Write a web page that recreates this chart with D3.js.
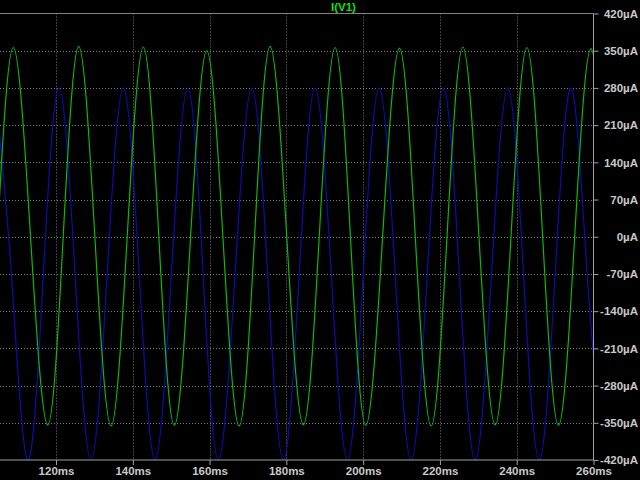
<!DOCTYPE html>
<html>
<head>
<meta charset="utf-8">
<script src="https://cdn.jsdelivr.net/npm/d3@7"></script>
<style>
  html, body { margin: 0; padding: 0; background: #000; }
  svg { display: block; }
</style>
</head>
<body>
<svg id="chart" width="640" height="480"></svg>
<script>
// ---- Data ----
const xTicks = [120, 140, 160, 180, 200, 220, 240, 260];            // ms
const yTicks = [420, 350, 280, 210, 140, 70, 0, -70, -140, -210, -280, -350, -420]; // µA
const traceLabel = "I(V1)";

// Green trace I(V1): time (ms) and current (µA)
const greenTime = [104.70, 108.88, 113.36, 117.84, 121.87, 125.91, 130.12, 134.33, 138.54, 142.75,
                   146.78, 150.82, 155.05, 159.27, 163.47, 167.68, 171.72, 175.76, 180.10, 184.43,
                   188.56, 192.69, 196.69, 200.69, 205.07, 209.45, 213.58, 217.71, 221.84, 225.97,
                   230.17, 234.38, 238.51, 242.65, 246.76, 250.88, 255.10, 259.32, 263.50];
const greenCurrent = [0, 356, 0, -354, 0, 358, 0, -356, 0, 357,
                      0, -355, 0, 350, 0, -356, 0, 358, 0, -354,
                      0, 356, 0, -355, 0, 355, 0, -356, 0, 357,
                      0, -354, 0, 356, 0, -355, 0, 354, 0];

// Blue trace: time (ms) and current (µA)
const blueTime = [104.10, 108.37, 112.63, 116.71, 120.78, 124.95, 129.12, 133.33, 137.54, 141.67,
                  145.80, 150.06, 154.32, 158.31, 162.29, 166.64, 170.99, 175.11, 179.22, 183.35,
                  187.48, 191.69, 195.90, 200.03, 204.16, 208.33, 212.49, 216.70, 220.91, 225.04,
                  229.17, 233.43, 237.69, 241.77, 245.85, 250.02, 254.18, 258.34, 262.50];
const blueCurrent = [280, -70, -420, -70, 280, -70, -420, -70, 280, -70,
                     -420, -70, 280, -70, -420, -70, 280, -70, -420, -70,
                     280, -70, -420, -70, 280, -70, -420, -70, 280, -70,
                     -420, -70, 280, -70, -420, -70, 280, -70, -420];

// ---- Layout ----
const W = 640, H = 480;
const plot = { left: 0, right: 593.5, top: 13.5, bottom: 460 };
const svg = d3.select("#chart");
svg.append("rect").attr("width", W).attr("height", H).attr("fill", "#000");

const x = d3.scaleLinear().domain([105.41, 260]).range([plot.left, plot.right]);
const y = d3.scaleLinear().domain([-420, 420]).range([plot.bottom, plot.top]);

const textColor = "#c8c8c8";
const gridColor = "#7a7a7a";
const axisColor = "#a0a0a0";
const font = "'Liberation Sans', Arial, sans-serif";

// Grid
const grid = svg.append("g");
grid.selectAll("line.h").data(yTicks.filter(d => d !== 420 && d !== -420)).join("line")
  .attr("x1", plot.left).attr("x2", plot.right)
  .attr("y1", d => Math.round(y(d)) + 0.5).attr("y2", d => Math.round(y(d)) + 0.5)
  .attr("stroke", gridColor).attr("stroke-dasharray", "1,2");
grid.selectAll("line.v").data(xTicks.filter(d => d !== 260)).join("line")
  .attr("x1", d => Math.round(x(d)) + 0.5).attr("x2", d => Math.round(x(d)) + 0.5)
  .attr("y1", plot.top).attr("y2", plot.bottom)
  .attr("stroke", gridColor).attr("stroke-dasharray", "1,2");

// Traces
svg.append("clipPath").attr("id", "clip").append("rect")
  .attr("x", plot.left).attr("y", plot.top)
  .attr("width", plot.right - plot.left).attr("height", plot.bottom - plot.top);

const line = d3.line().x(d => x(d[0])).y(d => y(d[1])).curve(d3.curveNatural);
const traces = svg.append("g").attr("clip-path", "url(#clip)");
traces.append("path").datum(blueTime.map((t, i) => [t, blueCurrent[i]]))
  .attr("d", line).attr("fill", "none").attr("stroke", "#0c0cb0").attr("stroke-width", 1.2);
traces.append("path").datum(greenTime.map((t, i) => [t, greenCurrent[i]]))
  .attr("d", line).attr("fill", "none").attr("stroke", "#0cb80c").attr("stroke-width", 1.2);

// Axes
const yAxis = d3.axisRight(y).tickValues(yTicks).tickSize(5).tickFormat(d => d + "µA");
const gy = svg.append("g").attr("transform", `translate(${plot.right},0)`).call(yAxis);
gy.select(".domain").attr("stroke", axisColor).attr("d", `M0,${plot.top}V${plot.bottom}`);
gy.selectAll(".tick line").attr("stroke", axisColor);
gy.selectAll(".tick text").attr("fill", textColor).attr("x", 44.5).attr("text-anchor", "end")
  .attr("font-family", font).attr("font-size", 11.5).attr("font-weight", "bold");

const xAxis = d3.axisBottom(x).tickValues(xTicks).tickSize(5).tickFormat(d => d + "ms");
const gx = svg.append("g").attr("transform", `translate(0,${plot.bottom})`).call(xAxis);
gx.select(".domain").attr("stroke", axisColor).attr("d", `M${plot.left},0H${plot.right}`);
gx.selectAll(".tick line").attr("stroke", axisColor);
gx.selectAll(".tick text").attr("fill", textColor).attr("y", 7)
  .attr("font-family", font).attr("font-size", 11.5).attr("font-weight", "bold");

// Top border
svg.append("line").attr("x1", plot.left).attr("x2", plot.right)
  .attr("y1", plot.top).attr("y2", plot.top).attr("stroke", "#808080");

// Trace label
svg.append("text").attr("x", 343.5).attr("y", 10.5).attr("text-anchor", "middle")
  .attr("fill", "#10e010").attr("font-family", font).attr("font-size", 11.5)
  .attr("font-weight", "bold").text(traceLabel);
</script>
</body>
</html>
